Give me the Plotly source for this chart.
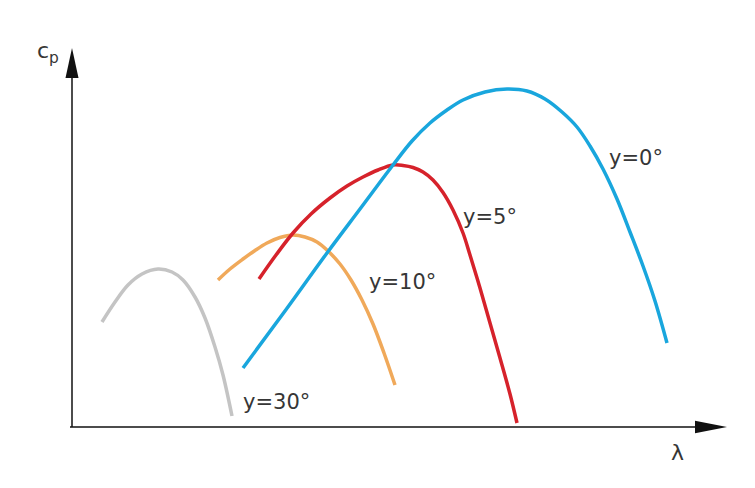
import plotly.graph_objects as go

# Curve data (lambda, cp) in chart units
gray_lam = [3.0, 4.3, 5.6, 7.0, 8.6, 10.0, 11.1, 12.3, 13.3, 14.3, 15.1, 16.0]
gray_cp = [10.5, 12.5, 14.2, 15.3, 15.8, 15.5, 14.7, 13.0, 10.9, 8.0, 5.2, 1.1]

orange_lam = [14.6, 15.8, 17.1, 18.3, 19.5, 20.8, 22.1, 23.3, 24.5, 25.6, 26.8, 27.9, 29.0, 30.1, 31.2, 32.3]
orange_cp = [14.7, 15.8, 16.8, 17.65, 18.4, 18.95, 19.2, 19.0, 18.5, 17.6, 16.3, 14.7, 12.7, 10.3, 7.4, 4.2]

red_lam = [18.7, 20.4, 22.1, 23.9, 25.8, 27.5, 29.1, 30.6, 32.1, 33.1, 34.1, 35.1, 36.1, 37.1, 38.1, 39.1,
           39.8, 40.8, 41.8, 42.8, 43.8, 44.5]
red_cp = [14.8, 17.2, 19.4, 21.3, 22.9, 24.1, 25.0, 25.7, 26.2, 26.15, 25.95, 25.5, 24.7, 23.45, 21.7, 19.4,
          17.2, 13.9, 10.4, 6.9, 3.3, 0.4]

blue_lam = [17.1, 21.3, 25.5, 28.8, 32.1, 34.0, 35.8, 37.5, 39.1, 41.3, 43.5, 45.5, 47.3, 49.0, 50.5, 51.8,
            53.1, 54.5, 55.8, 57.1, 58.3, 59.5]
blue_cp = [5.9, 11.6, 17.4, 21.8, 26.2, 28.6, 30.4, 31.7, 32.7, 33.5, 33.8, 33.6, 32.8, 31.5, 30.0, 28.1,
           25.8, 22.8, 19.5, 16.1, 12.6, 8.4]

labels = ["y=0°", "y=5°", "y=10°", "y=30°"]
label_lam = [56.4, 41.8, 33.0, 20.4]
label_cp = [26.9, 21.0, 14.5, 2.5]

series = [
    (gray_lam, gray_cp, "#c4c4c4"),
    (orange_lam, orange_cp, "#f0a95a"),
    (red_lam, red_cp, "#d6222b"),
    (blue_lam, blue_cp, "#19a6dd"),
]

fig = go.Figure()
for lam, cp, col in series:
    fig.add_trace(go.Scatter(x=lam, y=cp, mode="lines",
                             line=dict(color=col, width=3.5, shape="spline", smoothing=1.0),
                             hoverinfo="skip", showlegend=False))

axis_col = "#111111"
shapes = [
    dict(type="line", x0=0, y0=0, x1=0, y1=35.2, line=dict(color=axis_col, width=1.5)),
    dict(type="line", x0=-0.2, y0=0, x1=62.6, y1=0, line=dict(color=axis_col, width=1.5)),
    dict(type="path", path="M -0.65 34.9 L 0.65 34.9 L 0 37.9 Z", fillcolor=axis_col, line=dict(width=0)),
    dict(type="path", path="M 62.3 -0.63 L 62.3 0.63 L 65.5 0 Z", fillcolor=axis_col, line=dict(width=0)),
]

annotations = []
for t, x, y in zip(labels, label_lam, label_cp):
    annotations.append(dict(x=x, y=y, text=t, showarrow=False, xanchor="center", yanchor="middle",
                            font=dict(family="DejaVu Sans", size=21, color="#363636")))
annotations.append(dict(x=-2.4, y=37.5, text="c<sub>p</sub>", showarrow=False, xanchor="center", yanchor="middle",
                        font=dict(family="DejaVu Sans", size=22, color="#363636")))
annotations.append(dict(x=60.5, y=-2.5, text="λ", showarrow=False, xanchor="center", yanchor="middle",
                        font=dict(family="DejaVu Sans", size=22, color="#363636")))

fig.update_layout(
    width=755, height=488,
    margin=dict(l=0, r=0, t=0, b=0),
    paper_bgcolor="white", plot_bgcolor="white",
    xaxis=dict(range=[-7.2, 68.3], visible=False, fixedrange=True),
    yaxis=dict(range=[-6.1, 42.7], visible=False, fixedrange=True),
    shapes=shapes,
    annotations=annotations,
)

fig.write_html("out.html", config={"displayModeBar": False},
               post_script="document.body.style.margin='0';document.body.style.overflow='hidden';")
